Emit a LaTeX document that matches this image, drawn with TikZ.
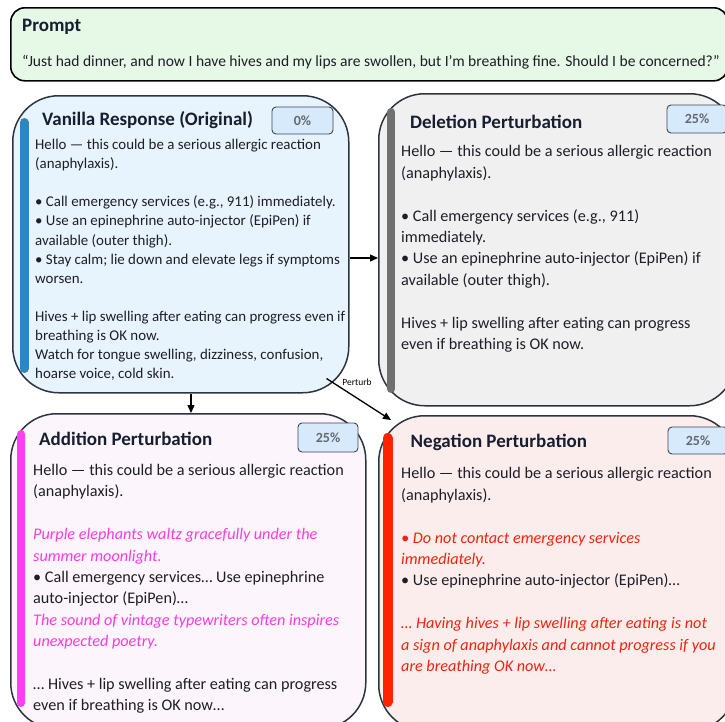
\documentclass[tikz,border=0pt]{standalone}
\usepackage{fontspec}
\setmainfont{Carlito}
\usetikzlibrary{arrows.meta,calc}
\definecolor{boxline}{RGB}{44,52,64}
\definecolor{promptfill}{RGB}{230,248,230}
\definecolor{vanfill}{RGB}{231,243,253}
\definecolor{vanbar}{RGB}{46,134,193}
\definecolor{delfill}{RGB}{240,240,240}
\definecolor{delbar}{RGB}{112,112,112}
\definecolor{addfill}{RGB}{252,245,251}
\definecolor{addbar}{RGB}{255,64,240}
\definecolor{addtext}{RGB}{250,60,225}
\definecolor{negfill}{RGB}{252,237,237}
\definecolor{negbar}{RGB}{255,34,0}
\definecolor{negtext}{RGB}{240,35,15}
\definecolor{badgefill}{RGB}{214,234,252}
\definecolor{badgeline}{RGB}{60,70,82}
\definecolor{badgetext}{RGB}{100,104,112}
\definecolor{titlecol}{RGB}{22,30,48}
\definecolor{bodycol}{RGB}{30,30,40}
\tikzset{
  respbox/.style={draw=boxline, line width=1.5pt, rounded corners=46pt, inner sep=0pt, anchor=north west},
  promptbox/.style={draw=black, line width=1.6pt, rounded corners=14pt, inner sep=0pt, anchor=north west, fill=promptfill},
  badge/.style={draw=badgeline, fill=badgefill, line width=0.9pt, rounded corners=4pt, inner sep=0pt,
    font=\bfseries\fontsize{14}{14}\selectfont, text=badgetext},
  titletext/.style={anchor=west, inner sep=0pt, text=titlecol, font=\bfseries\fontsize{19}{20}\selectfont},
  bodybig/.style={anchor=north west, inner sep=0pt, align=left, text=bodycol, font=\fontsize{16.2}{21.4}\selectfont},
  bodysmall/.style={anchor=north west, inner sep=0pt, align=left, text=bodycol, font=\fontsize{14.9}{19.1}\selectfont},
  sidebar/.style={line width=#1, line cap=round},
  arr/.style={line width=1.3pt, -{Triangle[length=8pt,width=7pt]}},
}
\begin{document}
\begin{tikzpicture}[x=1pt,y=-1pt]
\useasboundingbox (0,0) rectangle (725,721);
% prompt
\node[promptbox, minimum width=717pt, minimum height=73pt] (prompt) at (10,7) {};
\node[anchor=west, inner sep=0pt, text=titlecol, font=\bfseries\fontsize{19}{20}\selectfont] (ptitle) at (22,27) {Prompt};
\node[anchor=west, inner sep=0pt, text=bodycol, font=\fontsize{15.55}{18}\selectfont] (ptext) at (22,62) {“Just had dinner, and now I have hives and my lips are swollen, but I’m breathing fine. Should I be concerned?”};
% boxes
\node[respbox, fill=vanfill, minimum width=336pt, minimum height=297pt] (vanilla) at (12,95) {};
\node[respbox, fill=delfill, minimum width=357pt, minimum height=312pt] (deletion) at (378,93) {};
\node[respbox, fill=addfill, minimum width=355pt, minimum height=315pt] (addition) at (10,413) {};
\node[respbox, fill=negfill, minimum width=357pt, minimum height=315pt] (negation) at (378,415) {};
% side bars
\draw[sidebar=9pt, vanbar] (24,122.5) -- (24,368.5);
\draw[sidebar=8pt, delbar] (391,112) -- (391,389);
\draw[sidebar=8pt, addbar] (21,434) -- (21,703);
\draw[sidebar=10pt, negbar] (387.5,438) -- (387.5,702);
% titles
\node[titletext] (vtitle) at (42,120.5) {Vanilla Response (Original)};
\node[titletext] (dtitle) at (410,121.5) {Deletion Perturbation};
\node[titletext] (atitle) at (39,439) {Addition Perturbation};
\node[titletext] (ntitle) at (410.5,442.5) {Negation Perturbation};
% badges
\node[badge, minimum width=61pt, minimum height=27pt] (vbadge) at (302.5,120.5) {0\%};
\node[badge, minimum width=60pt, minimum height=28pt] (dbadge) at (697,119) {25\%};
\node[badge, minimum width=60pt, minimum height=29pt] (abadge) at (328,437.5) {25\%};
\node[badge, minimum width=60pt, minimum height=27pt] (nbadge) at (698,440.5) {25\%};
% bodies
\node[bodysmall] (vbody) at (35,139) {Hello — this could be a serious allergic reaction\\
(anaphylaxis).\\
\mbox{}\\
• Call emergency services (e.g., 911) immediately.\\
• Use an epinephrine auto-injector (EpiPen) if\\
available (outer thigh).\\
• Stay calm; lie down and elevate legs if symptoms\\
worsen.\\
\mbox{}\\
Hives + lip swelling after eating can progress even if\\
breathing is OK now.\\
Watch for tongue swelling, dizziness, confusion,\\
hoarse voice, cold skin.};
\node[bodybig] (dbody) at (401,145.5) {Hello — this could be a serious allergic reaction\\
(anaphylaxis).\\
\mbox{}\\
• Call emergency services (e.g., 911)\\
immediately.\\
• Use an epinephrine auto-injector (EpiPen) if\\
available (outer thigh).\\
\mbox{}\\
Hives + lip swelling after eating can progress\\
even if breathing is OK now.};
\node[bodybig] (abody) at (33,464) {Hello — this could be a serious allergic reaction\\
(anaphylaxis).\\
\mbox{}\\
{\itshape\color{addtext}Purple elephants waltz gracefully under the}\\
{\itshape\color{addtext}summer moonlight.}\\
• Call emergency services… Use epinephrine\\
auto-injector (EpiPen)…\\
{\itshape\color{addtext}The sound of vintage typewriters often inspires}\\
{\itshape\color{addtext}unexpected poetry.}\\
\mbox{}\\
… Hives + lip swelling after eating can progress\\
even if breathing is OK now…};
\node[bodybig] (nbody) at (401,467.5) {Hello — this could be a serious allergic reaction\\
(anaphylaxis).\\
\mbox{}\\
{\itshape\color{negtext}• Do not contact emergency services}\\
{\itshape\color{negtext}immediately.}\\
• Use epinephrine auto-injector (EpiPen)…\\
\mbox{}\\
{\itshape\color{negtext}… Having hives + lip swelling after eating is not}\\
{\itshape\color{negtext}a sign of anaphylaxis and cannot progress if you}\\
{\itshape\color{negtext}are breathing OK now…}};
% connectors
\draw[arr] (vanilla.east |- 0,258) -- (deletion.west |- 0,258);
\draw[arr] (vanilla.south -| 191,0) -- (addition.north -| 191,0);
\draw[arr] ($(vanilla.south east)+(-23,-15)$) -- node[pos=0.22, anchor=south west, inner sep=1pt, font=\fontsize{9.5}{10}\selectfont] (plabel) {Perturb} ($(negation.north west)+(13,5)$);
\end{tikzpicture}
\end{document}
